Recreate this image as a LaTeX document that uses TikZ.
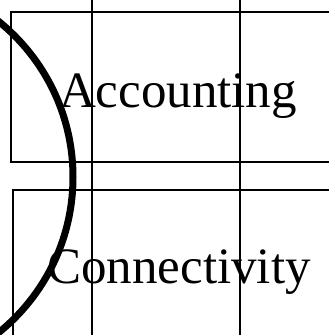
\documentclass[tikz,border=0pt]{standalone}
\usepackage{fontspec}
\setmainfont{Liberation Serif}
\usetikzlibrary{positioning}
\tikzset{frm/.style={draw,line width=2pt},
 bar/.style={line width=2pt},
 arcl/.style={line width=7pt},
 lbl/.style={anchor=base,inner sep=0pt,font=\fontsize{51}{60}\selectfont}}
\begin{document}
\begin{tikzpicture}[x=1pt,y=-1pt]
\useasboundingbox (0,0) rectangle (329,335);
\clip (0,0) rectangle (329,335);
\coordinate (tl) at (11,12);\coordinate (br) at (345,162);
\coordinate (bl) at (13,190);\coordinate (bb) at (345,360);
\draw[frm] (tl) rectangle (br);\draw[frm] (bl) rectangle (bb);
\coordinate (v1t) at (92,-5);\coordinate (v1b) at (92,340);
\coordinate (v2t) at (240,-5);\coordinate (v2b) at (240,340);
\draw[bar] (v1t)--(v1b);\draw[bar] (v2t)--(v2b);
\node[lbl] (acc) at (178,107) {Accounting};
\node[lbl] (con) at (179,283) {Connectivity};
\coordinate (c) at (-127,177);
\draw[arcl] (c) circle (200);
\end{tikzpicture}
\end{document}
